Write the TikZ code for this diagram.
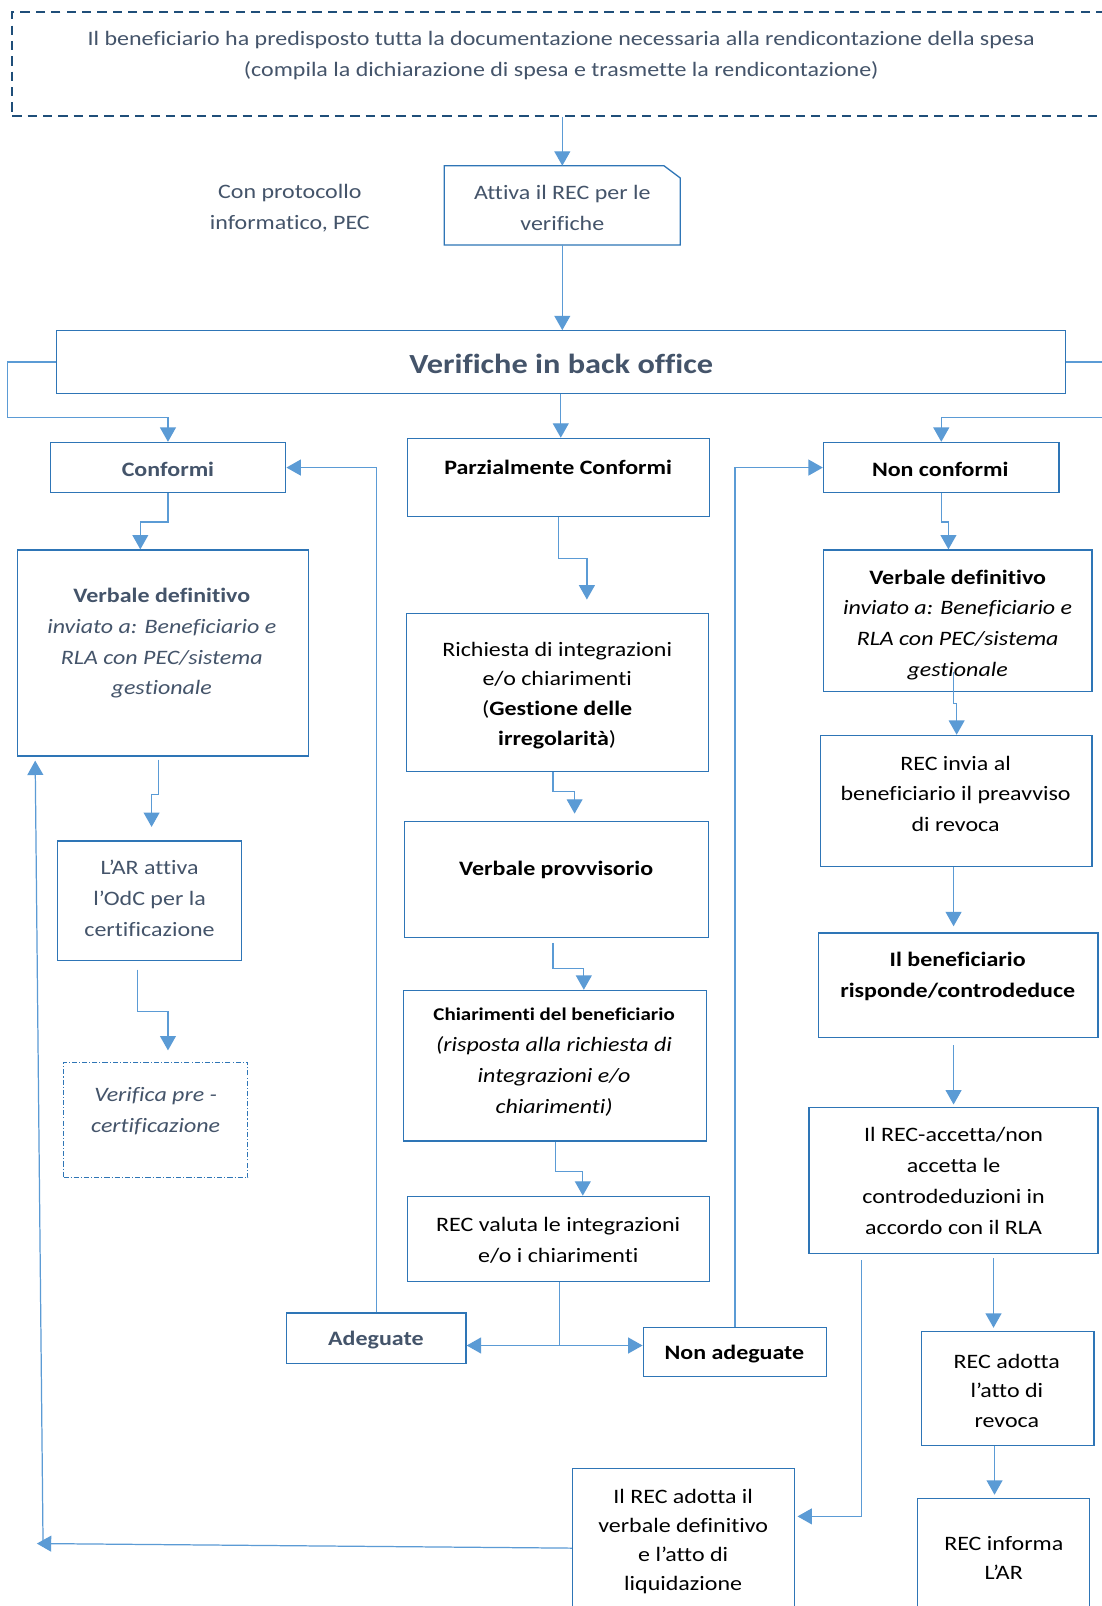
\documentclass[tikz,border=0pt]{standalone}
\usepackage{fontspec}
\setmainfont{Carlito}[FakeStretch=1.17, Ligatures=NoCommon]
\usetikzlibrary{arrows.meta,fit}
\definecolor{txtblue}{HTML}{44546A}
\definecolor{boxline}{HTML}{2E75B6}
\definecolor{connc}{HTML}{5B9BD5}
\definecolor{navy}{HTML}{1F4E79}
\begin{document}
\begin{tikzpicture}[x=1pt,y=-1pt,
  box/.style={draw=boxline, line width=1.3pt, inner sep=0pt},
  txt/.style={align=center, inner sep=0pt, font=\fontsize{20}{30}\selectfont},
  tb/.style={txt, text=txtblue},
  tk/.style={txt, text=black},
  conn/.style={draw=connc, line width=1.2pt},
  arr/.style={conn, -{Triangle[length=14pt,width=15.5pt]}},
]
\useasboundingbox[fill=white] (0,0) rectangle (1075,1568);

% ---------- boxes ----------
\node[box, draw=navy, line width=2.3pt, dash pattern=on 9pt off 6pt, fit={(12,12) (1095,113)}] (topbox) {};
\node[inner sep=0pt, fit={(434,162) (664,239)}] (attiva) {};
\draw[boxline, line width=1.3pt] (attiva.south west) -- (attiva.north west) -- ([xshift=-16pt]attiva.north east) -- ([yshift=-12pt]attiva.north east) -- (attiva.south east) -- cycle;
\node[box, fit={(55,323) (1040,384)}] (verif) {};
\node[box, fit={(49,432) (279,481)}] (conf) {};
\node[box, fit={(398,428) (693,504)}] (parz) {};
\node[box, fit={(804,432) (1034,481)}] (nonc) {};
\node[box, fit={(17,537) (301,738)}] (vdl) {};
\node[box, fit={(56,821) (236,938)}] (ar) {};
\node[box, line width=1pt, dash pattern=on 5pt off 2pt on 1pt off 2pt, fit={(62,1037) (242,1150)}] (vpc) {};
\node[box, fit={(397,599) (692,753)}] (rich) {};
\node[box, fit={(395,802) (692,915)}] (vprov) {};
\node[box, fit={(394,967) (690,1114)}] (chiar) {};
\node[box, fit={(398,1168) (693,1251)}] (valuta) {};
\node[box, fit={(280,1282) (455,1331)}] (adeg) {};
\node[box, fit={(628,1296) (807,1344)}] (nadeg) {};
\node[box, fit={(804,537) (1066,675)}] (vdr) {};
\node[box, fit={(801,718) (1066,846)}] (invia) {};
\node[box, fit={(799,911) (1072,1013)}] (risp) {};
\node[box, fit={(790,1081) (1072,1224)}] (accetta) {};
\node[box, fit={(900,1300) (1068,1411)}] (revoca) {};
\node[box, fit={(896,1463) (1064,1595)}] (informa) {};
\node[box, fit={(559,1434) (776,1595)}] (adotta) {};

% ---------- texts ----------
\node[tb] (t1) at (548,54) {Il beneficiario ha predisposto tutta la documentazione necessaria alla rendicontazione della spesa\\(compila la dichiarazione di spesa e trasmette la rendicontazione)};
\node[tb] (t2) at (283,203) {Con protocollo\\informatico, PEC};
\node[tb] (t3) at (549,203) {Attiva il REC per le\\verifiche};
\node[tb, font=\fontsize{27}{30}\selectfont\bfseries] (t4) at (548,355) {Verifiche in back office};
\node[tb, font=\fontsize{20}{30}\selectfont\bfseries] (t5) at (164,458) {Conformi};
\node[tk, font=\fontsize{20}{30}\selectfont\bfseries] (t6) at (545,456) {Parzialmente Conformi};
\node[tk, font=\fontsize{20}{30}\selectfont\bfseries] (t7) at (918,458) {Non conformi};
\node[tb] (t8) at (158,628) {\textbf{Verbale definitivo}\\\textit{inviato a: Beneficiario e}\\\textit{RLA con PEC/sistema}\\\textit{gestionale}};
\node[tb] (t9) at (146,877) {L’AR attiva\\l’OdC per la\\certificazione};
\node[tb] (t10) at (152,1085) {\textit{Verifica pre -}\\\textit{certificazione}};
\node[tk, font=\fontsize{20}{29}\selectfont] (t11) at (544,679) {Richiesta di integrazioni\\e/o chiarimenti\\(\textbf{Gestione delle}\\\textbf{irregolarità})};
\node[tk, font=\fontsize{20}{30}\selectfont\bfseries] (t12) at (543,849) {Verbale provvisorio};
\node[tk] (t13) at (541,1037) {{\fontsize{17.5}{30}\selectfont\bfseries Chiarimenti del beneficiario}\\\textit{(risposta alla richiesta di}\\\textit{integrazioni e/o}\\\textit{chiarimenti)}};
\node[tk] (t14) at (545,1211) {REC valuta le integrazioni\\e/o i chiarimenti};
\node[tb, font=\fontsize{20}{30}\selectfont\bfseries] (t15) at (367,1308) {Adeguate};
\node[tk, font=\fontsize{20}{30}\selectfont\bfseries] (t16) at (717,1322) {Non adeguate};
\node[tk] (t17) at (935,610) {\textbf{Verbale definitivo}\\\textit{inviato a: Beneficiario e}\\\textit{RLA con PEC/sistema}\\\textit{gestionale}};
\node[tk] (t18) at (933,775) {REC invia al\\beneficiario il preavviso\\di revoca};
\node[tk, font=\fontsize{20}{30}\selectfont\bfseries] (t19) at (935,953) {Il beneficiario\\risponde/controdeduce};
\node[tk] (t20) at (931,1153) {Il REC-accetta/non\\accetta le\\controdeduzioni in\\accordo con il RLA};
\node[tk, font=\fontsize{20}{28.5}\selectfont] (t21) at (983,1358) {REC adotta\\l’atto di\\revoca};
\node[tk, font=\fontsize{20}{28}\selectfont] (t22) at (980,1521) {REC informa\\L’AR};
\node[tk, font=\fontsize{20}{28.3}\selectfont] (t23) at (667,1505) {Il REC adotta il\\verbale definitivo\\e l’atto di\\liquidazione};

% ---------- free ends ----------
\coordinate (retL) at (36,1507);
\coordinate (retB) at (42,1505);

% ---------- connectors ----------
\draw[arr] (attiva.north |- topbox.south) -- (attiva.north);
\draw[arr] (attiva.south) -- (attiva.south |- verif.north);
\draw[arr] (verif.west) -- ++(-47,0) -- ++(0,54) -| (conf.north);
\draw[arr] (verif.east) -- ++(55,0) -- ++(0,54) -| (nonc.north);
\draw[arr] (verif.south) -- (verif.south |- parz.north);

\draw[arr] (conf.south) -- ++(0,28) -| ([xshift=-22pt]vdl.north);
\draw[arr, shorten <=3pt, shorten >=13pt] ([xshift=-4pt]vdl.south) -- ++(0,37) -| ([xshift=2pt]ar.north);
\draw[arr, shorten <=8pt, shorten >=11pt] ([xshift=-12pt]ar.south) -- ++(0,49) -| ([xshift=12pt]vpc.north);

\draw[arr, shorten >=13pt] (parz.south) -- ++(0,41) -| ([xshift=28.5pt]rich.north);
\draw[arr, shorten >=7pt] ([xshift=-4.5pt]rich.south) -- ++(0,19) -| ([xshift=17.5pt]vprov.north);
\draw[arr, shorten <=5pt] ([xshift=-3.5pt]vprov.south) -- ++(0,30) -| ([xshift=28pt]chiar.north);
\draw[arr] ([xshift=0.5pt]chiar.south) -- ++(0,29) -| ([xshift=23.5pt]valuta.north);
\draw[conn] ([xshift=0.5pt]valuta.south) -- ++(0,62) coordinate (split);
\draw[conn, {Triangle[length=14pt,width=15.5pt]}-{Triangle[length=14pt,width=15.5pt]}] (split -| adeg.east) -- (split -| nadeg.west);
\draw[arr] (adeg.north) |- (conf.east);
\draw[arr] (nadeg.north) |- (nonc.west);

\draw[arr] (nonc.south) -- ++(0,28) -| ([xshift=-9pt]vdr.north);
\draw[arr] ([xshift=-4pt, yshift=20pt]vdr.south) -- ++(0,31) -| ([xshift=0.5pt]invia.north);
\draw[arr, shorten >=6pt] ([xshift=-2.5pt]invia.south) -- ([xshift=-2.5pt]invia.south |- risp.north);
\draw[arr, shorten <=7pt, shorten >=2pt] ([xshift=-4.5pt]risp.south) -- ([xshift=-4.5pt]risp.south |- accetta.north);
\draw[arr, shorten <=4pt, shorten >=3pt] ([xshift=39pt]accetta.south) -- ([xshift=39pt]accetta.south |- revoca.north);
\draw[arr, shorten >=3pt] ([xshift=-13pt]revoca.south) -- ([xshift=-13pt]revoca.south |- informa.north);
\draw[arr, shorten <=6pt, shorten >=2pt] ([xshift=-90pt]accetta.south) |- ([yshift=34pt]adotta.east);
\draw[arr] ([yshift=3pt]adotta.west) -- (retL);
\draw[arr] (retB) -- ([xshift=18pt, yshift=-4pt]vdl.south west);
\end{tikzpicture}
\end{document}
